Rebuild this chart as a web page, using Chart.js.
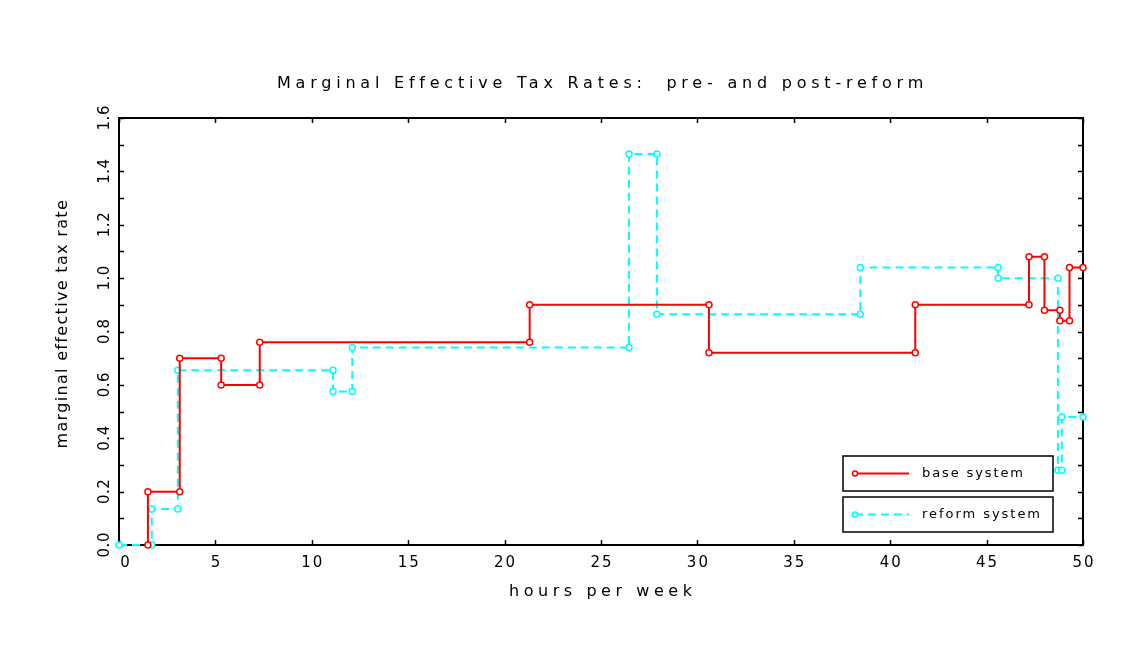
<!DOCTYPE html>
<html>
<head>
<meta charset="utf-8">
<script src="https://cdn.jsdelivr.net/npm/chart.js@4"></script>
<style>
  html, body { margin: 0; padding: 0; background: #ffffff; }
  #wrap { width: 1148px; height: 649px; }
</style>
</head>
<body>
<div id="wrap"><canvas id="chart" width="1148" height="649"></canvas></div>
<script>
// Step corners of the marginal effective tax rate schedules (hours per week, rate)
const baseHours = [1.5, 1.5, 3.15, 3.15, 5.3, 5.3, 7.3, 7.3, 21.3, 21.3, 30.6, 30.6, 41.3, 41.3, 47.2, 47.2, 48.0, 48.0, 48.8, 48.8, 49.3, 49.3, 50];
const baseRate  = [0, 0.2, 0.2, 0.7, 0.7, 0.6, 0.6, 0.76, 0.76, 0.9, 0.9, 0.72, 0.72, 0.9, 0.9, 1.08, 1.08, 0.88, 0.88, 0.84, 0.84, 1.04, 1.04];

const reformHours = [0, 1.7, 1.7, 3.05, 3.05, 11.1, 11.1, 12.1, 12.1, 26.45, 26.45, 27.9, 27.9, 38.45, 38.45, 45.6, 45.6, 48.7, 48.7, 48.9, 48.9, 50];
const reformRate  = [0, 0, 0.135, 0.135, 0.655, 0.655, 0.575, 0.575, 0.74, 0.74, 1.465, 1.465, 0.865, 0.865, 1.04, 1.04, 1.0, 1.0, 0.28, 0.28, 0.48, 0.48];

const seriesNames = ['base system', 'reform system'];

const xTicks = [0, 5, 10, 15, 20, 25, 30, 35, 40, 45, 50];
const xTickLabels = ['0', '5', '10', '15', '20', '25', '30', '35', '40', '45', '50'];
const yTicks = [0, 0.2, 0.4, 0.6, 0.8, 1.0, 1.2, 1.4, 1.6];
const yTickLabels = ['0.0', '0.2', '0.4', '0.6', '0.8', '1.0', '1.2', '1.4', '1.6'];
const yMinorTicks = [0.1, 0.3, 0.5, 0.7, 0.9, 1.1, 1.3, 1.5];

const chartTitle = 'Marginal Effective Tax Rates:  pre- and post-reform';
const xTitle = 'hours per week';
const yTitle = 'marginal effective tax rate';

const RED = '#ff0000';
const CYAN = '#00ffff';
const FONT = '"DejaVu Sans", "Liberation Sans", sans-serif';

function toPoints(xs, ys) { return xs.map((x, i) => ({ x: x, y: ys[i] })); }

// text stretched across a given width with even letter spacing
function spacedText(ctx, text, left, y, width) {
  ctx.letterSpacing = '0px';
  const w = ctx.measureText(text).width;
  const sp = text.length > 1 ? (width - w) / (text.length - 1) : 0;
  ctx.letterSpacing = sp + 'px';
  ctx.textAlign = 'left';
  ctx.fillText(text, left, y);
  ctx.letterSpacing = '0px';
}
function spacedCentered(ctx, text, cx, y, spacing) {
  ctx.letterSpacing = '0px';
  const w = ctx.measureText(text).width + spacing * (text.length - 1);
  ctx.letterSpacing = spacing + 'px';
  ctx.textAlign = 'left';
  ctx.fillText(text, cx - w / 2, y);
  ctx.letterSpacing = '0px';
}

const framePlugin = {
  id: 'frame',
  beforeDatasetsDraw(chart) {
    const { ctx, chartArea: a, scales: { x, y } } = chart;
    ctx.save();
    ctx.strokeStyle = '#000';
    ctx.lineWidth = 2;
    ctx.strokeRect(a.left, a.top, a.right - a.left, a.bottom - a.top);
    ctx.lineWidth = 1.5;
    ctx.beginPath();
    xTicks.forEach(v => {
      const px = Math.round(x.getPixelForValue(v)) + 0.5;
      ctx.moveTo(px, a.bottom); ctx.lineTo(px, a.bottom - 5);
      ctx.moveTo(px, a.top); ctx.lineTo(px, a.top + 5);
    });
    yTicks.concat(yMinorTicks).forEach(v => {
      const py = Math.round(y.getPixelForValue(v)) + 0.5;
      ctx.moveTo(a.left, py); ctx.lineTo(a.left + 5, py);
      ctx.moveTo(a.right, py); ctx.lineTo(a.right - 5, py);
    });
    ctx.stroke();

    ctx.fillStyle = '#000';
    ctx.textBaseline = 'middle';
    // x tick labels (the zero sits a little right of its tick)
    ctx.font = '15px ' + FONT;
    xTicks.forEach((v, i) => {
      const shift = i === 0 ? 6 : 0;
      spacedCentered(ctx, xTickLabels[i], x.getPixelForValue(v) + shift, a.bottom + 18, 2);
    });
    // y tick labels, turned to read upward
    ctx.font = '15px ' + FONT;
    yTicks.forEach((v, i) => {
      ctx.save();
      ctx.translate(a.left - 14, y.getPixelForValue(v));
      ctx.rotate(-Math.PI / 2);
      spacedCentered(ctx, yTickLabels[i], 0, 0, 0.5);
      ctx.restore();
    });
    // titles
    ctx.font = '16px ' + FONT;
    spacedText(ctx, chartTitle, (a.left + a.right) / 2 - 324, a.top - 34, 646);
    ctx.font = '16px ' + FONT;
    spacedText(ctx, xTitle, (a.left + a.right) / 2 - 92, a.bottom + 47, 183);
    ctx.save();
    ctx.translate(a.left - 56, (a.top + a.bottom) / 2 - 7);
    ctx.rotate(-Math.PI / 2);
    spacedText(ctx, yTitle, -124, 0, 248);
    ctx.restore();
    ctx.restore();
  },
  afterDraw(chart) {
    const { ctx, chartArea: a } = chart;
    ctx.save();
    const boxLeft = a.right - 240, boxW = 210, boxH = 35;
    const tops = [a.bottom - 89, a.bottom - 48];
    chart.data.datasets.forEach((ds, i) => {
      const top = tops[i];
      ctx.fillStyle = '#fff';
      ctx.fillRect(boxLeft, top, boxW, boxH);
      ctx.strokeStyle = '#000';
      ctx.lineWidth = 1.5;
      ctx.strokeRect(boxLeft, top, boxW, boxH);
      const cy = top + boxH / 2;
      ctx.strokeStyle = ds.borderColor;
      ctx.lineWidth = ds.borderWidth;
      ctx.setLineDash(ds.borderDash || []);
      ctx.beginPath();
      ctx.moveTo(boxLeft + 12, cy);
      ctx.lineTo(boxLeft + 66, cy);
      ctx.stroke();
      ctx.setLineDash([]);
      ctx.fillStyle = '#fff';
      ctx.lineWidth = 1.5;
      ctx.beginPath();
      ctx.arc(boxLeft + 12, cy, 2.5, 0, Math.PI * 2);
      ctx.fill(); ctx.stroke();
      ctx.fillStyle = '#000';
      ctx.textBaseline = 'middle';
      ctx.font = '13px ' + FONT;
      spacedText(ctx, ds.label, boxLeft + 79, cy, i === 0 ? 101 : 118);
    });
    ctx.restore();
  }
};

new Chart(document.getElementById('chart'), {
  type: 'line',
  data: {
    datasets: [
      {
        label: seriesNames[0],
        data: toPoints(baseHours, baseRate),
        borderColor: RED,
        backgroundColor: '#ffffff',
        borderWidth: 2,
        pointRadius: 3,
        pointBorderWidth: 1.5,
        pointBorderColor: RED,
        pointBackgroundColor: '#ffffff',
        tension: 0,
        clip: 6
      },
      {
        label: seriesNames[1],
        data: toPoints(reformHours, reformRate),
        borderColor: CYAN,
        backgroundColor: '#ffffff',
        borderWidth: 2,
        borderDash: [8, 5],
        pointRadius: 3,
        pointBorderWidth: 1.5,
        pointBorderColor: CYAN,
        pointBackgroundColor: '#ffffff',
        tension: 0,
        clip: 6
      }
    ]
  },
  options: {
    responsive: false,
    animation: false,
    devicePixelRatio: 1,
    layout: { padding: { left: 119, top: 118, right: 65, bottom: 104 } },
    plugins: { legend: { display: false }, title: { display: false }, tooltip: { enabled: false } },
    scales: {
      x: { type: 'linear', min: 0, max: 50, display: false },
      y: { type: 'linear', min: 0, max: 1.6, display: false }
    }
  },
  plugins: [framePlugin]
});
</script>
</body>
</html>
